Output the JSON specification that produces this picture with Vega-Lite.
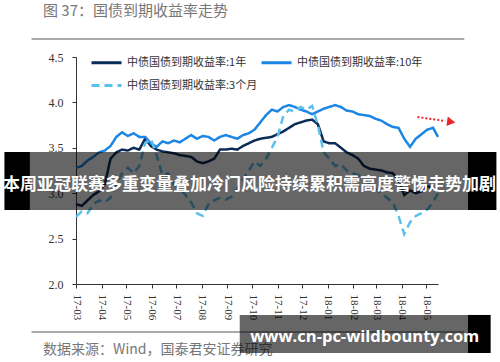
{
  "$schema": "https://vega.github.io/schema/vega-lite/v6.json",
  "width": 362,
  "height": 227,
  "autosize": {"type": "none"},
  "padding": {"left": 76, "top": 57, "right": 62, "bottom": 78},
  "background": "white",
  "title": {"text": "图 37：国债到期收益率走势"},
  "config": {
    "view": {"stroke": null},
    "title": {"frame": "group", "anchor": "start", "dx": -33, "offset": 19, "fontSize": 15, "color": "#777777", "font": "Noto Sans CJK SC", "fontWeight": "normal"},
    "legend": {"orient": "none", "legendX": 14, "legendY": -11, "columns": 2, "columnPadding": -3, "rowPadding": -16, "padding": 0, "symbolType": "stroke", "symbolSize": 900, "symbolStrokeWidth": 3, "labelFont": "Noto Sans CJK SC", "labelFontSize": 11, "labelColor": "#333333", "labelOffset": 4}
  },
  "datasets": {
    "yields": [
      {"x": "2017-03-01", "1年": 2.88, "10年": 3.28, "3个月": 2.74},
      {"x": "2017-03-08", "1年": 2.86, "10年": 3.30, "3个月": 2.80},
      {"x": "2017-03-15", "1年": 2.92, "10年": 3.36, "3个月": 2.78},
      {"x": "2017-03-22", "1年": 2.98, "10年": 3.40, "3个月": 2.88},
      {"x": "2017-03-29", "1年": 3.02, "10年": 3.45, "3个月": 2.92},
      {"x": "2017-04-05", "1年": 3.10, "10年": 3.47, "3个月": 2.90},
      {"x": "2017-04-12", "1年": 3.38, "10年": 3.52, "3个月": 2.95},
      {"x": "2017-04-19", "1年": 3.45, "10年": 3.62, "3个月": 3.10},
      {"x": "2017-04-26", "1年": 3.48, "10年": 3.67, "3个月": 3.22},
      {"x": "2017-05-03", "1年": 3.47, "10年": 3.63, "3个月": 3.28},
      {"x": "2017-05-10", "1年": 3.50, "10年": 3.66, "3个月": 3.22},
      {"x": "2017-05-17", "1年": 3.48, "10年": 3.62, "3个月": 3.30},
      {"x": "2017-05-24", "1年": 3.60, "10年": 3.62, "3个月": 3.55},
      {"x": "2017-05-31", "1年": 3.52, "10年": 3.55, "3个月": 3.60},
      {"x": "2017-06-07", "1年": 3.48, "10年": 3.51, "3个月": 3.42},
      {"x": "2017-06-14", "1年": 3.46, "10年": 3.57, "3个月": 3.20},
      {"x": "2017-06-21", "1年": 3.45, "10年": 3.55, "3个月": 3.22},
      {"x": "2017-06-28", "1年": 3.44, "10年": 3.58, "3个月": 3.10},
      {"x": "2017-07-05", "1年": 3.42, "10年": 3.56, "3个月": 3.05},
      {"x": "2017-07-12", "1年": 3.41, "10年": 3.60, "3个月": 2.98},
      {"x": "2017-07-19", "1年": 3.40, "10年": 3.64, "3个月": 2.90},
      {"x": "2017-07-26", "1年": 3.35, "10年": 3.60, "3个月": 2.78},
      {"x": "2017-08-02", "1年": 3.33, "10年": 3.63, "3个月": 2.75},
      {"x": "2017-08-09", "1年": 3.35, "10年": 3.62, "3个月": 2.88},
      {"x": "2017-08-16", "1年": 3.38, "10年": 3.58, "3个月": 2.92},
      {"x": "2017-08-23", "1年": 3.48, "10年": 3.62, "3个月": 2.95},
      {"x": "2017-08-30", "1年": 3.48, "10年": 3.64, "3个月": 2.93},
      {"x": "2017-09-06", "1年": 3.49, "10年": 3.62, "3个月": 2.96},
      {"x": "2017-09-13", "1年": 3.48, "10年": 3.60, "3个月": 3.05},
      {"x": "2017-09-20", "1年": 3.52, "10年": 3.64, "3个月": 3.15},
      {"x": "2017-09-27", "1年": 3.55, "10年": 3.66, "3个月": 3.25},
      {"x": "2017-10-04", "1年": 3.58, "10年": 3.70, "3个月": 3.35},
      {"x": "2017-10-11", "1年": 3.60, "10年": 3.78, "3个月": 3.30},
      {"x": "2017-10-18", "1年": 3.61, "10年": 3.86, "3个月": 3.38},
      {"x": "2017-10-25", "1年": 3.62, "10年": 3.92, "3个月": 3.50},
      {"x": "2017-11-01", "1年": 3.65, "10年": 3.90, "3个月": 3.62},
      {"x": "2017-11-08", "1年": 3.68, "10年": 3.95, "3个月": 3.85},
      {"x": "2017-11-15", "1年": 3.72, "10年": 3.97, "3个月": 3.92},
      {"x": "2017-11-22", "1年": 3.76, "10年": 3.95, "3个月": 3.90},
      {"x": "2017-11-29", "1年": 3.78, "10年": 3.92, "3个月": 3.95},
      {"x": "2017-12-06", "1年": 3.80, "10年": 3.90, "3个月": 3.92},
      {"x": "2017-12-13", "1年": 3.81, "10年": 3.87, "3个月": 3.96},
      {"x": "2017-12-20", "1年": 3.76, "10年": 3.90, "3个月": 3.75},
      {"x": "2017-12-27", "1年": 3.57, "10年": 3.93, "3个月": 3.45},
      {"x": "2018-01-03", "1年": 3.55, "10年": 3.95, "3个月": 3.38},
      {"x": "2018-01-10", "1年": 3.55, "10年": 3.97, "3个月": 3.30},
      {"x": "2018-01-17", "1年": 3.50, "10年": 3.95, "3个月": 3.32},
      {"x": "2018-01-24", "1年": 3.45, "10年": 3.91, "3个月": 3.25},
      {"x": "2018-01-31", "1年": 3.42, "10年": 3.90, "3个月": 3.22},
      {"x": "2018-02-07", "1年": 3.38, "10年": 3.87, "3个月": 3.20},
      {"x": "2018-02-14", "1年": 3.30, "10年": 3.86, "3个月": 3.15},
      {"x": "2018-02-21", "1年": 3.27, "10年": 3.85, "3个月": 3.10},
      {"x": "2018-02-28", "1年": 3.26, "10年": 3.82, "3个月": 3.05},
      {"x": "2018-03-07", "1年": 3.25, "10年": 3.80, "3个月": 3.00},
      {"x": "2018-03-14", "1年": 3.23, "10年": 3.76, "3个月": 2.95},
      {"x": "2018-03-21", "1年": 3.22, "10年": 3.73, "3个月": 2.90},
      {"x": "2018-03-28", "1年": 3.15, "10年": 3.72, "3个月": 2.75},
      {"x": "2018-04-04", "1年": 2.98, "10年": 3.60, "3个月": 2.55},
      {"x": "2018-04-11", "1年": 3.03, "10年": 3.51, "3个月": 2.68},
      {"x": "2018-04-18", "1年": 3.00, "10年": 3.60, "3个月": 2.75},
      {"x": "2018-04-25", "1年": 3.02, "10年": 3.65, "3个月": 2.78},
      {"x": "2018-05-02", "1年": 3.08, "10年": 3.70, "3个月": 2.82},
      {"x": "2018-05-09", "1年": 3.05, "10年": 3.72, "3个月": 2.90},
      {"x": "2018-05-15", "1年": 3.04, "10年": 3.62, "3个月": 3.00}
    ]
  },
  "encoding": {
    "x": {
      "field": "x", "type": "temporal",
      "scale": {"type": "utc", "domain": [{"year": 2017, "month": 3, "date": 1, "utc": true}, {"year": 2018, "month": 5, "date": 15, "utc": true}]},
      "axis": {
        "title": null, "grid": false, "format": "%y-%m", "labelAngle": 90, "labelPadding": 6, "tickSize": 4,
        "labelFont": "Liberation Serif", "labelFontSize": 11, "labelColor": "#333333", "domainColor": "#333333", "tickColor": "#333333",
        "values": [
          {"year": 2017, "month": 3, "date": 1, "utc": true}, {"year": 2017, "month": 4, "date": 1, "utc": true},
          {"year": 2017, "month": 5, "date": 1, "utc": true}, {"year": 2017, "month": 6, "date": 1, "utc": true},
          {"year": 2017, "month": 7, "date": 1, "utc": true}, {"year": 2017, "month": 8, "date": 1, "utc": true},
          {"year": 2017, "month": 9, "date": 1, "utc": true}, {"year": 2017, "month": 10, "date": 1, "utc": true},
          {"year": 2017, "month": 11, "date": 1, "utc": true}, {"year": 2017, "month": 12, "date": 1, "utc": true},
          {"year": 2018, "month": 1, "date": 1, "utc": true}, {"year": 2018, "month": 2, "date": 1, "utc": true},
          {"year": 2018, "month": 3, "date": 1, "utc": true}, {"year": 2018, "month": 4, "date": 1, "utc": true},
          {"year": 2018, "month": 5, "date": 1, "utc": true}
        ]
      }
    },
    "y": {
      "field": "y", "type": "quantitative",
      "scale": {"domain": [2, 4.5], "nice": false, "zero": false},
      "axis": {"title": null, "grid": false, "values": [2, 2.5, 3, 3.5, 4, 4.5], "format": ".1f", "tickSize": 4, "labelPadding": 9,
        "labelFont": "Liberation Serif", "labelFontSize": 12, "labelColor": "#333333", "domainColor": "#333333", "tickColor": "#333333"}
    }
  },
  "layer": [
    {
      "data": {"name": "yields"},
      "transform": [{"fold": ["1年", "10年", "3个月"], "as": ["series", "y"]}],
      "mark": {"type": "line", "strokeWidth": 2.5},
      "encoding": {
        "color": {"field": "series", "type": "nominal",
          "scale": {"domain": ["1年", "10年", "3个月"], "range": ["#0c2c58", "#1c86e4", "#5cc0ec"]},
          "legend": {"title": null, "values": ["1年", "3个月", "10年"], "labelExpr": "'中债国债到期收益率:' + datum.label"}},
        "strokeDash": {"field": "series", "type": "nominal",
          "scale": {"domain": ["1年", "10年", "3个月"], "range": [[1, 0], [1, 0], [8, 5]]},
          "legend": {"title": null, "values": ["1年", "3个月", "10年"], "labelExpr": "'中债国债到期收益率:' + datum.label"}}
      }
    },
    {
      "data": {"values": [{"x": "2018-04-20", "y": 3.839, "x2": "2018-05-24", "y2": 3.795}]},
      "mark": {"type": "rule", "color": "#e8242a", "strokeWidth": 2, "strokeDash": [2, 2], "clip": false},
      "encoding": {"x2": {"field": "x2"}, "y2": {"field": "y2"}}
    },
    {
      "data": {"values": [{"x": "2018-05-31", "y": 3.786}]},
      "mark": {"type": "point", "shape": "triangle-right", "filled": true, "color": "#e8242a", "opacity": 1, "size": 90, "angle": 8, "clip": false},
      "encoding": {}
    },
    {
      "data": {"values": [{"x": "2017-01-06", "x2": "2018-06-16", "y": 4.698}, {"x": "2017-01-06", "x2": "2018-06-16", "y": 1.471}]},
      "mark": {"type": "rule", "color": "#8c8c8c", "strokeWidth": 1.5, "clip": false},
      "encoding": {"x2": {"field": "x2"}}
    },
    {
      "data": {"values": [{"x": "2017-01-20", "y": 1.273, "t": "数据来源：Wind，国泰君安证券研究"}]},
      "mark": {"type": "text", "align": "left", "baseline": "middle", "font": "Noto Sans CJK SC", "fontSize": 14, "color": "#777777", "clip": false},
      "encoding": {"text": {"field": "t"}}
    },
    {
      "data": {"values": [
        {"x": "2016-12-04", "x2": "2017-01-04", "y": 3.454, "y2": 2.815},
        {"x": "2018-06-20", "x2": "2018-07-25", "y": 3.454, "y2": 2.815},
        {"x": "2018-06-20", "x2": "2018-07-18", "y": 1.659, "y2": 1.240}
      ]},
      "mark": {"type": "rect", "color": "#000000", "opacity": 1, "clip": false},
      "encoding": {"x2": {"field": "x2"}, "y2": {"field": "y2"}}
    },
    {
      "data": {"values": [
        {"x": "2017-01-04", "x2": "2018-06-20", "y": 3.454, "y2": 2.815},
        {"x": "2017-09-16", "x2": "2018-06-20", "y": 1.659, "y2": 1.240}
      ]},
      "mark": {"type": "rect", "color": "#000000", "opacity": 0.6, "clip": false},
      "encoding": {"x2": {"field": "x2"}, "y2": {"field": "y2"}}
    },
    {
      "data": {"values": [{"x": "2017-09-28", "y": 3.09, "t": "本周亚冠联赛多重变量叠加冷门风险持续累积需高度警惕走势加剧"}]},
      "mark": {"type": "text", "align": "center", "baseline": "middle", "font": "Noto Sans CJK SC", "fontWeight": "bold", "fontSize": 17, "color": "#ffffff", "clip": false},
      "encoding": {"text": {"field": "t"}}
    },
    {
      "data": {"values": [{"x": "2018-02-15", "y": 1.42, "t": "www.cn-pc-wildbounty.com"}]},
      "mark": {"type": "text", "align": "center", "baseline": "middle", "font": "Open Sans", "fontWeight": "bold", "fontSize": 16.5, "color": "#ffffff", "clip": false},
      "encoding": {"text": {"field": "t"}}
    }
  ]
}
